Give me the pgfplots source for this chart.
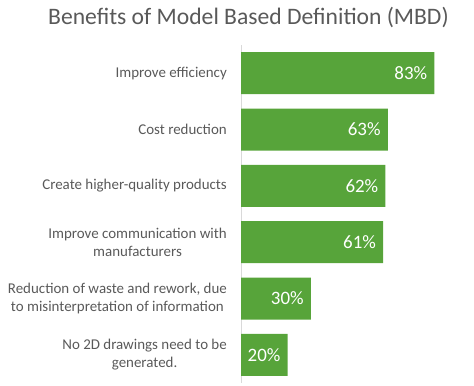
\documentclass[border=0pt]{standalone}
\usepackage{pgfplots}
\pgfplotsset{compat=1.18}
\usepackage{fontspec}
\setmainfont{Carlito}
\definecolor{barg}{RGB}{87,164,58}
\definecolor{txtg}{RGB}{89,89,89}
\definecolor{axg}{RGB}{217,217,217}
\begin{document}
\begin{tikzpicture}
\useasboundingbox (0,0) rectangle (474bp,-386bp);
\node[anchor=base, text=txtg, font=\fontsize{23.7}{28}\selectfont, inner sep=0pt] at (248.5bp,-24.5bp) {Benefits of Model Based Definition (MBD)};
\begin{axis}[
  at={(241bp,-383bp)}, anchor=south west,
  scale only axis, width=233bp, height=338bp,
  xmin=0, xmax=100, ymin=-0.5, ymax=5.5,
  y dir=reverse,
  xbar, bar width=42bp, bar shift=0pt,
  axis x line=none,
  axis y line*=left,
  y axis line style={draw=axg, line width=0.8pt, -},
  ytick={0,1,2,3,4,5},
  major tick length=0pt,
  /pgf/number format/assume math mode=true,
  yticklabels={Improve efficiency, Cost reduction, Create higher-quality products, {Improve communication with\\manufacturers}, {Reduction of waste and rework, due\\to misinterpretation of information}, {No 2D drawings need to be\\generated.}},
  yticklabel style={align=center, anchor=east, inner sep=0pt, xshift=-14bp, text=txtg, font=\fontsize{15}{18}\selectfont},
  nodes near coords={\pgfmathprintnumber[assume math mode=true]{\pgfplotspointmeta}\%},
  point meta=x,
  nodes near coords style={anchor=east, text=white, inner sep=0pt, xshift=-7bp, font=\fontsize{19}{22}\selectfont},
]
\addplot[fill=barg, draw=none] coordinates {(83,0) (63,1) (62,2) (61,3) (30,4) (20,5)};
\end{axis}
\end{tikzpicture}
\end{document}
